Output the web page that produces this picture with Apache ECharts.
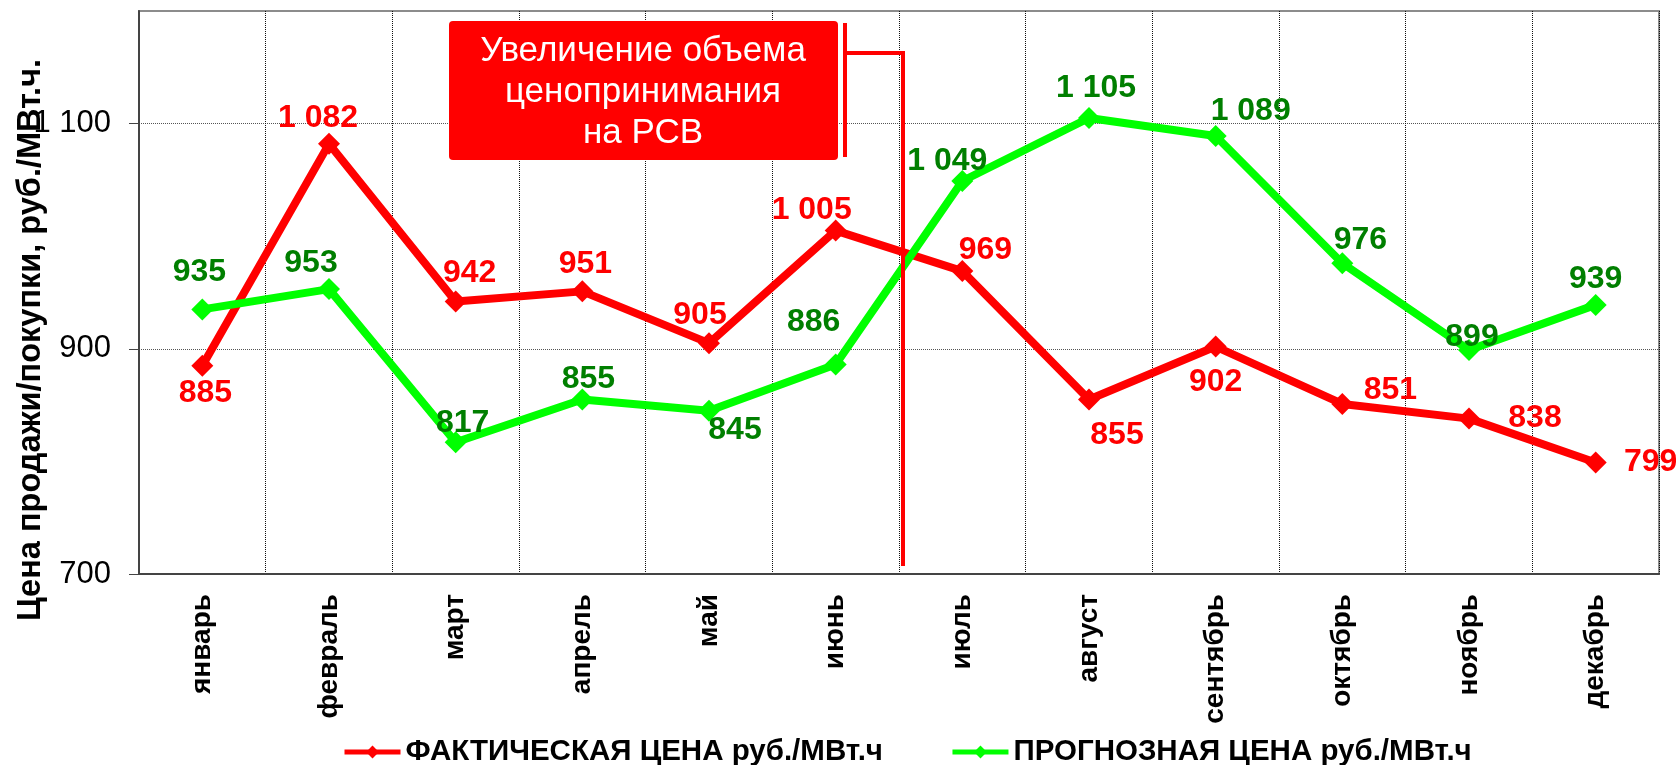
<!DOCTYPE html>
<html>
<head>
<meta charset="utf-8">
<script src="https://cdn.jsdelivr.net/npm/echarts@6/dist/echarts.min.js"></script>
<style>
  html, body { margin: 0; padding: 0; background: #fff; }
  #chart { width: 1676px; height: 765px; }
</style>
</head>
<body>
<div id="chart"></div>
<script>
  // data
  var months = ['январь', 'февраль', 'март', 'апрель', 'май', 'июнь', 'июль', 'август', 'сентябрь', 'октябрь', 'ноябрь', 'декабрь'];
  var factPrice = [885, 1082, 942, 951, 905, 1005, 969, 855, 902, 851, 838, 799];
  var forecastPrice = [935, 953, 817, 855, 845, 886, 1049, 1105, 1089, 976, 899, 939];
  var yTicks = [700, 900, 1100];

  // where each value label sits relative to its point
  var factLabelOffset = [[3, 27], [-11, -26], [14, -28], [3, -27], [-9, -28], [-24, -20], [23, -21], [28, 36], [0, 36], [48, -14], [66, 0], [55, 0]];
  var forecastLabelOffset = [[-3, -37], [-18, -26], [7, -19], [6, -20], [26, 19], [-22, -42], [-15, -20], [7, -30], [35, -25], [18, -23], [3, -13], [0, -26]];

  var FONT = '"Liberation Sans", Arial, sans-serif';

  function fmt(v) {
    return String(v).replace(/\B(?=(\d{3})+(?!\d))/g, ' ');
  }

  function withLabels(values, offsets) {
    return values.map(function (v, i) {
      return {
        value: v,
        label: { position: 'inside', offset: offsets[i] }
      };
    });
  }

  var chart = echarts.init(document.getElementById('chart'));
  chart.setOption({
    animation: false,
    textStyle: { fontFamily: FONT },
    grid: {
      left: 139, right: 17, top: 11, bottom: 191,
      outerBoundsMode: 'none', containLabel: false,
      show: true, borderColor: '#8c8c8c', borderWidth: 2
    },
    legend: {
      left: 342,
      top: 737,
      padding: 0,
      itemWidth: 56,
      itemHeight: 16,
      itemGap: 67,
      lineStyle: { width: 5 },
      textStyle: { fontSize: 29.5, fontWeight: 'bold', color: '#000' },
      data: ['ФАКТИЧЕСКАЯ ЦЕНА руб./МВт.ч', 'ПРОГНОЗНАЯ ЦЕНА руб./МВт.ч']
    },
    xAxis: {
      type: 'category',
      data: months,
      axisLine: { lineStyle: { color: '#444', width: 2 } },
      axisTick: { length: 7, lineStyle: { color: '#444' } },
      axisLabel: {
        interval: 0, rotate: 90, margin: 20,
        fontSize: 28, fontWeight: 'bold', color: '#000'
      },
      splitLine: { show: true, interval: 0, lineStyle: { type: 'dotted', color: '#111', width: 1 } }
    },
    yAxis: {
      type: 'value',
      min: 700, max: 1200, interval: 200,
      name: 'Цена продажи/покупки, руб./МВт.ч.',
      nameLocation: 'middle',
      nameGap: 91,
      nameMoveOverlap: false,
      nameTextStyle: { fontSize: 32.5, fontWeight: 'bold', color: '#000', padding: [0, 95, 0, 0] },
      axisLine: { show: true, lineStyle: { color: '#444', width: 2 } },
      axisTick: { show: true, length: 10, customValues: yTicks, lineStyle: { color: '#444' } },
      axisLabel: {
        customValues: yTicks, margin: 28, fontSize: 31, color: '#000',
        formatter: function (v) { return fmt(v); }
      },
      splitLine: { lineStyle: { type: 'dotted', color: '#555', width: 1 } }
    },
    series: [
      {
        name: 'ФАКТИЧЕСКАЯ ЦЕНА руб./МВт.ч',
        type: 'line',
        data: withLabels(factPrice, factLabelOffset),
        symbol: 'diamond',
        symbolSize: 22,
        color: '#ff0000',
        lineStyle: { color: '#ff0000', width: 8 },
        itemStyle: { color: '#ff0000' },
        label: {
          show: true, color: '#ff0000', fontSize: 32, fontWeight: 'bold',
          formatter: function (p) { return fmt(p.value); }
        },
        z: 2
      },
      {
        name: 'ПРОГНОЗНАЯ ЦЕНА руб./МВт.ч',
        type: 'line',
        data: withLabels(forecastPrice, forecastLabelOffset),
        symbol: 'diamond',
        symbolSize: 22,
        color: '#00ff00',
        lineStyle: { color: '#00ff00', width: 8 },
        itemStyle: { color: '#00ff00' },
        label: {
          show: true, color: '#007f00', fontSize: 32, fontWeight: 'bold',
          formatter: function (p) { return fmt(p.value); }
        },
        z: 3
      }
    ],
    graphic: [
      {
        type: 'rect', z: 100,
        shape: { x: 449, y: 21, width: 389, height: 139, r: 4 },
        style: { fill: '#ff0000' }
      },
      {
        type: 'text', z: 101,
        x: 643, y: 92,
        style: {
          text: 'Увеличение объема\nценопринимания\nна РСВ',
          fill: '#fff', font: '35px ' + FONT,
          align: 'center', verticalAlign: 'middle', lineHeight: 41
        }
      },
      {
        type: 'line', z: 100,
        shape: { x1: 845, y1: 23, x2: 845, y2: 157 },
        style: { stroke: '#ff0000', lineWidth: 4 }
      },
      {
        type: 'polyline', z: 100,
        shape: { points: [[845, 53], [903, 53], [903, 566]] },
        style: { stroke: '#ff0000', lineWidth: 4, fill: null }
      }
    ]
  });
</script>
</body>
</html>
